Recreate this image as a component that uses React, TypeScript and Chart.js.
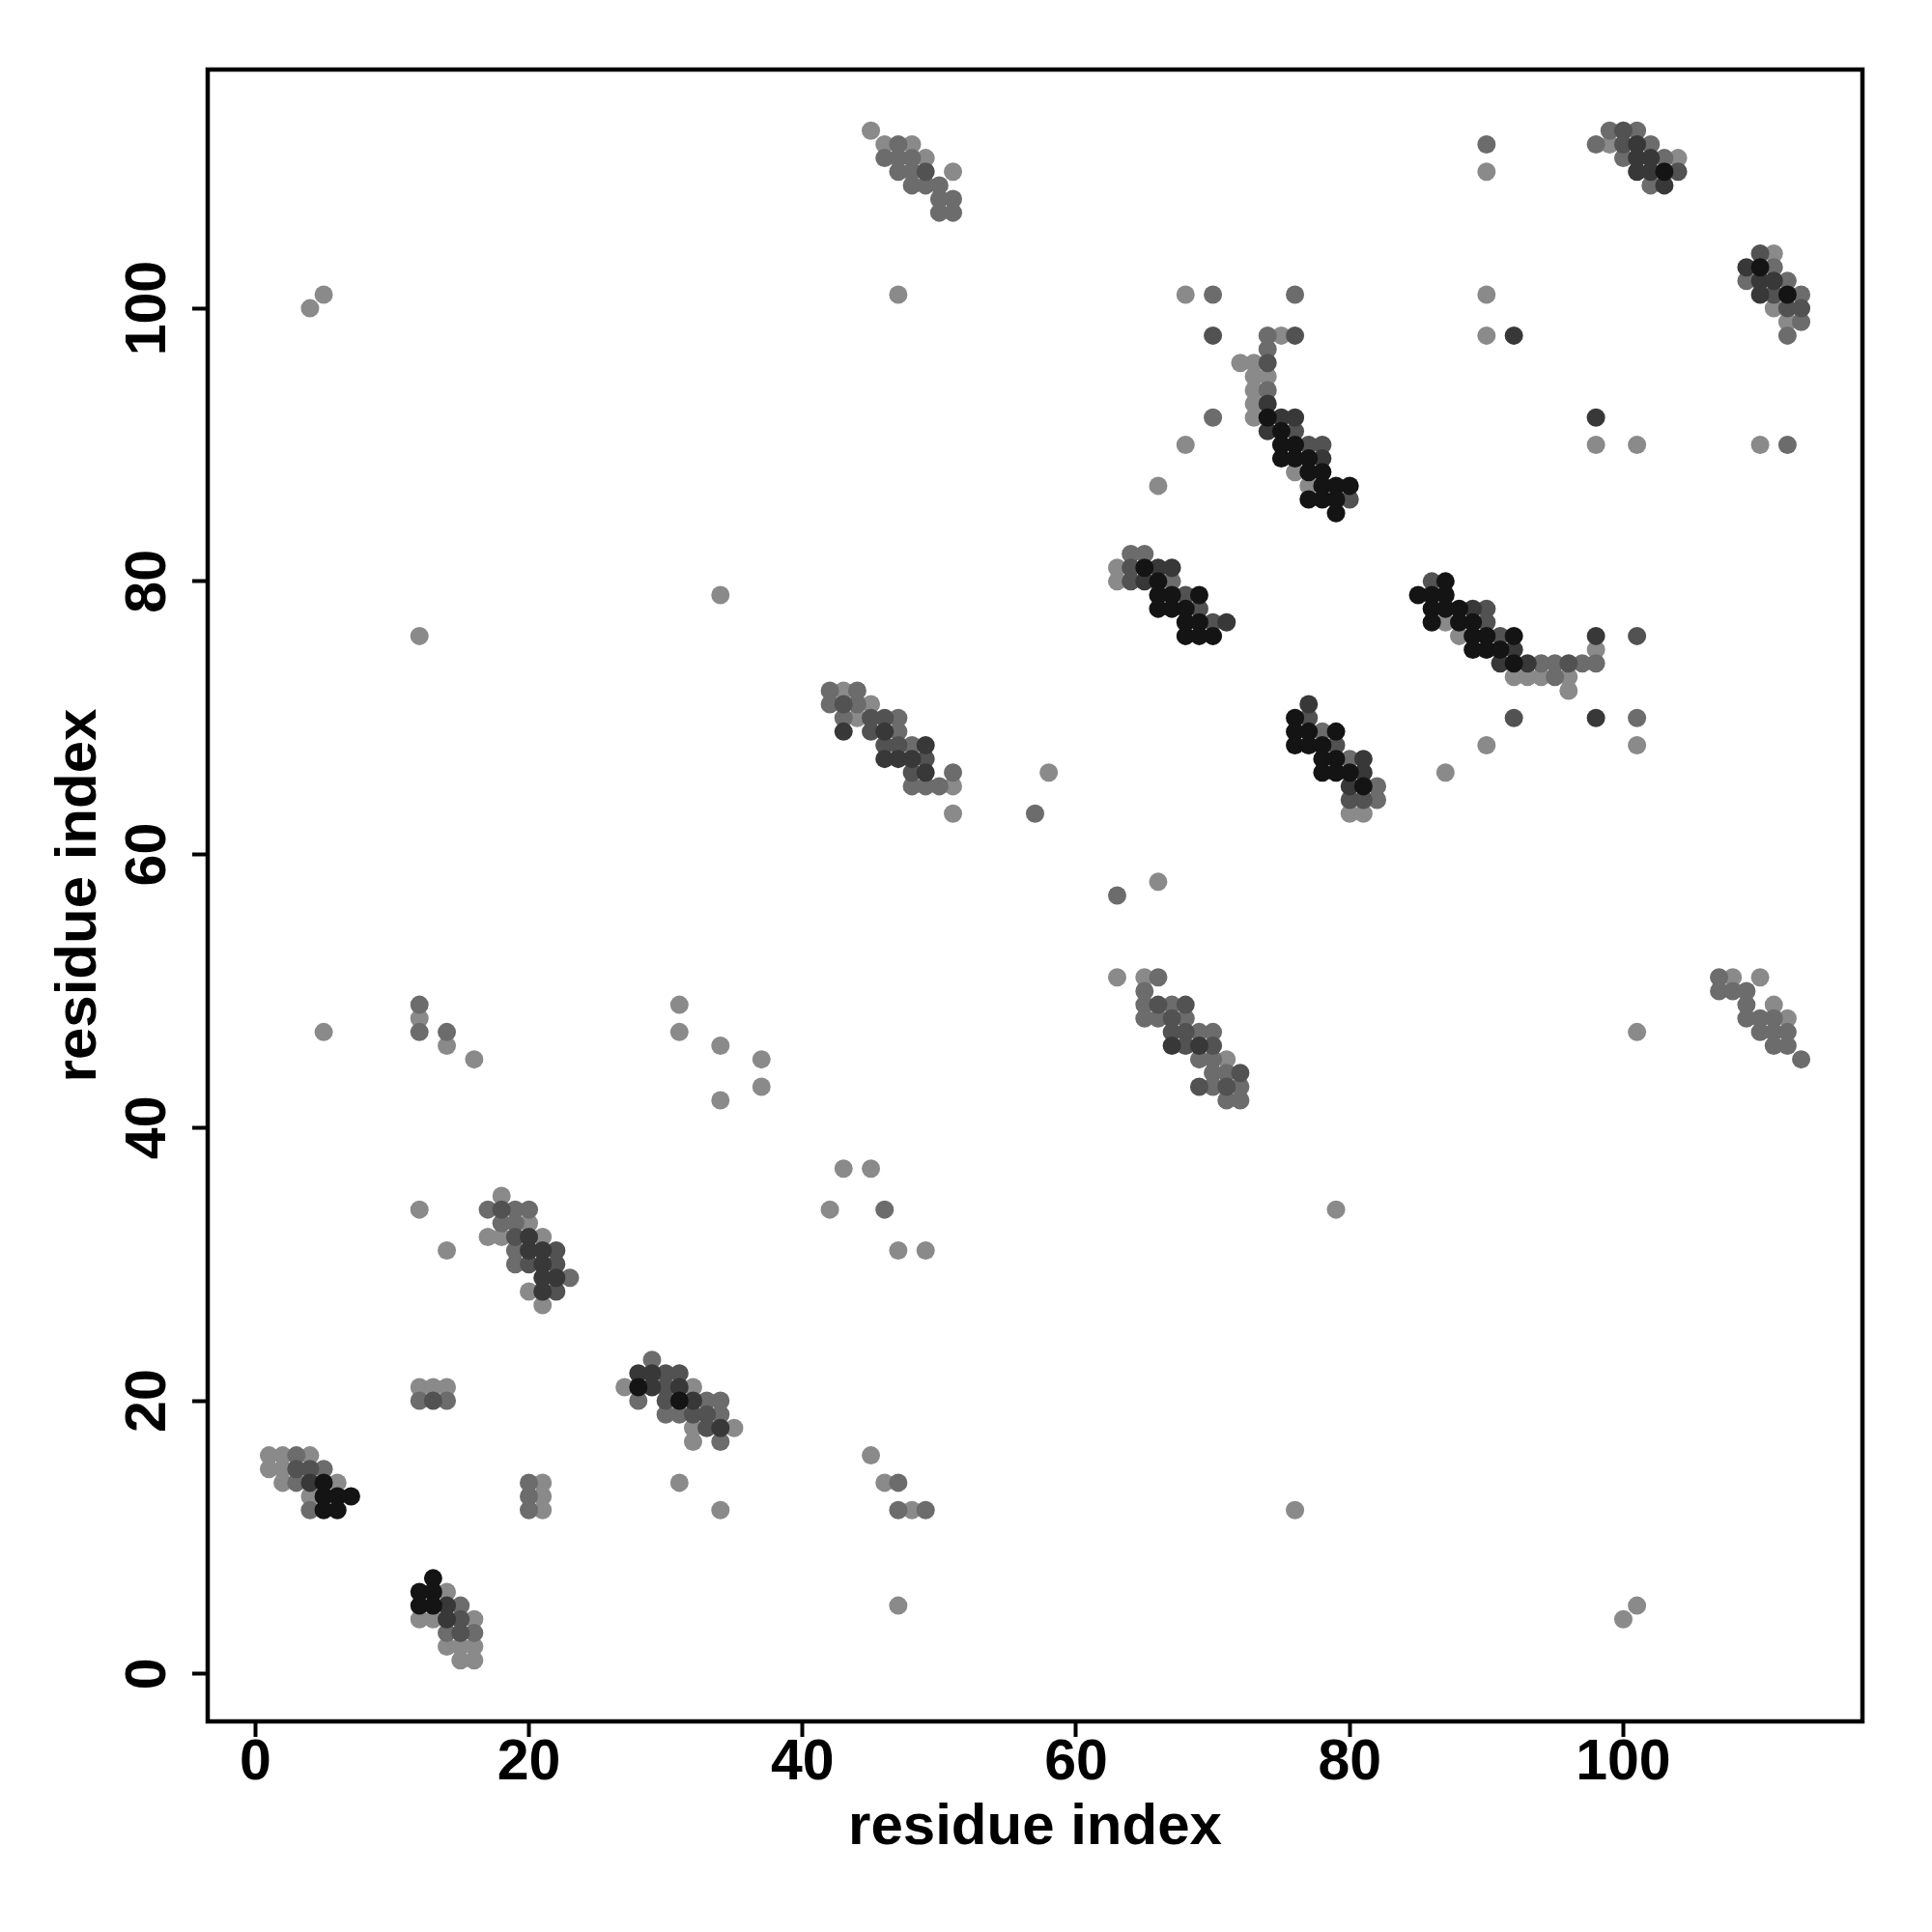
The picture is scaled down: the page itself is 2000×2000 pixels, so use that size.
import React, { useEffect, useRef } from 'react';
import { Chart, registerables } from 'chart.js';

Chart.register(...registerables);

// ---- axes ----
const xTicks = [0, 20, 40, 60, 80, 100];
const yTicks = [0, 20, 40, 60, 80, 100];
const axisMin = -3.48;
const axisMax = 117.48;
const xTitle = 'residue index';
const yTitle = 'residue index';

// ---- grey shades (lightest -> darkest) ----
const greyLevels = ['#8a8a8a', '#6c6c6c', '#525252', '#383838', '#141414'];

// ---- contacts [residue i, residue j], grouped by grey shade ----
const contactsLevel1: [number, number][] = [
  [1, 16], [2, 16], [4, 16], [1, 15], [2, 15], [2, 14], [6, 14], [4, 13],
  [14, 6], [12, 4], [13, 4], [16, 4], [14, 2], [15, 2], [16, 2], [15, 1], [16, 1],
  [12, 21], [13, 21], [14, 21], [21, 14], [21, 13], [21, 12],
  [18, 35], [20, 33], [17, 32], [18, 32], [21, 32], [20, 28], [21, 27], [12, 34], [14, 31],
  [27, 21], [32, 21], [32, 18], [35, 18], [32, 17],
  [31, 14], [34, 12], [45, 16], [46, 14], [48, 12], [47, 5], [42, 34], [47, 31], [49, 31],
  [43, 37], [45, 37], [12, 48], [14, 46], [16, 45], [5, 47], [31, 49], [31, 47], [37, 45],
  [37, 43], [34, 42], [34, 46],
  [43, 72], [45, 71], [44, 70], [51, 65], [51, 63], [58, 66],
  [45, 113], [46, 112], [48, 112], [49, 111], [51, 110],
  [4, 100], [5, 101], [47, 101], [12, 76], [34, 79],
  [66, 58], [63, 51], [65, 51], [71, 45], [63, 81], [63, 80], [80, 63], [81, 63],
  [68, 101], [75, 98], [72, 96], [73, 96], [73, 95], [74, 95], [73, 94], [73, 93], [73, 92],
  [68, 90], [76, 88], [66, 87], [77, 87],
  [87, 77], [88, 76], [98, 75], [92, 73], [93, 73], [94, 73], [96, 73], [96, 72], [90, 68],
  [101, 68], [87, 66],
  [90, 110], [99, 112], [104, 111], [111, 104], [111, 100], [112, 99], [90, 101], [90, 98],
  [98, 90], [101, 90], [110, 90],
  [101, 47], [108, 51], [110, 51], [111, 49], [112, 48],
  [76, 12], [79, 34], [100, 4], [101, 5],
];

const contactsLevel2: [number, number][] = [
  [3, 16], [5, 15], [3, 14], [4, 12], [15, 5], [14, 3], [16, 3], [12, 20], [14, 20],
  [20, 14], [20, 13], [20, 12],
  [17, 34], [19, 34], [20, 34], [18, 33], [19, 33], [19, 31], [19, 30], [23, 29],
  [29, 23], [28, 20], [33, 20], [34, 20], [30, 19], [31, 19], [34, 19], [34, 17],
  [47, 14], [47, 12], [49, 12], [46, 34], [12, 49], [12, 47], [14, 47],
  [42, 72], [44, 72], [42, 71], [44, 71], [43, 70], [47, 70], [47, 69], [48, 68], [51, 66],
  [48, 65], [49, 65], [50, 65], [57, 63],
  [47, 112], [46, 111], [47, 111], [48, 111], [47, 110], [48, 110], [48, 109], [49, 109],
  [50, 109], [50, 108], [51, 108], [50, 107], [51, 107],
  [63, 57], [66, 51], [65, 50], [65, 49], [67, 49], [65, 48], [66, 48], [68, 48], [69, 47],
  [70, 47], [69, 45], [70, 45], [70, 44], [71, 44], [70, 43], [72, 43], [71, 42], [72, 42],
  [64, 82], [65, 82], [67, 80], [78, 69], [80, 67], [82, 65], [82, 64],
  [70, 101], [76, 101], [74, 98], [74, 97], [74, 94], [70, 92],
  [94, 74], [95, 74], [97, 74], [98, 74], [95, 73], [101, 70],
  [90, 112], [99, 113], [101, 113], [98, 112], [102, 112], [100, 111], [103, 111], [102, 109],
  [111, 103], [109, 102], [112, 102], [113, 101], [113, 99], [112, 98], [112, 90],
  [107, 51], [107, 50], [108, 50], [109, 50], [109, 49], [109, 48], [110, 48], [111, 48],
  [110, 47], [111, 47], [112, 47], [111, 46], [112, 46], [113, 45],
];

const contactsLevel3: [number, number][] = [
  [3, 15], [4, 15], [15, 4], [15, 3], [13, 20],
  [18, 34], [19, 32], [22, 31], [20, 30], [22, 30], [22, 28],
  [30, 22], [31, 22], [30, 21], [30, 20], [32, 19], [33, 19], [33, 18],
  [43, 71], [45, 70], [46, 70], [45, 69], [46, 68], [47, 68], [49, 67], [48, 66], [49, 110],
  [66, 49], [68, 49], [67, 48], [67, 47], [68, 47], [68, 46], [70, 46], [72, 44], [69, 43], [71, 43],
  [64, 81], [64, 80], [68, 79], [69, 78], [70, 77], [77, 70], [79, 68], [80, 64], [81, 64],
  [70, 98], [76, 98], [74, 96], [76, 91], [77, 90], [78, 90], [80, 86],
  [86, 80], [90, 78], [90, 77], [91, 76], [96, 74], [101, 76], [92, 70],
  [100, 113], [100, 112], [104, 110], [110, 104], [111, 101], [112, 100], [113, 100],
];

const contactsLevel4: [number, number][] = [
  [4, 14], [14, 5], [14, 4],
  [20, 32], [20, 31], [21, 31], [21, 30], [21, 29], [22, 29], [21, 28],
  [28, 22], [29, 22], [29, 21], [31, 21], [32, 20], [34, 18],
  [43, 69], [46, 69], [49, 68], [46, 67], [47, 67], [48, 67], [49, 66],
  [67, 46], [69, 46], [66, 81], [67, 81], [65, 80], [71, 77], [77, 71], [81, 67], [81, 66], [80, 65],
  [74, 93], [75, 92], [76, 92], [74, 91], [78, 89],
  [89, 78], [92, 75], [91, 74], [93, 74], [98, 76], [98, 70],
  [101, 112], [101, 111], [102, 111], [101, 110], [102, 110], [103, 109], [109, 103], [110, 102],
  [111, 102], [110, 101], [92, 98], [98, 92],
];

const contactsLevel5: [number, number][] = [
  [5, 14], [5, 13], [6, 13], [7, 13], [5, 12], [6, 12], [13, 7], [12, 6], [13, 6], [12, 5], [13, 5],
  [28, 21], [31, 20],
  [65, 81], [66, 80], [66, 79], [67, 79], [69, 79], [66, 78], [67, 78], [68, 78], [68, 77], [69, 77],
  [68, 76], [69, 76], [70, 76],
  [76, 70], [76, 69], [77, 69], [79, 69], [76, 68], [77, 68], [78, 68], [78, 67], [79, 67], [78, 66],
  [79, 66], [80, 66], [81, 65],
  [74, 92], [75, 91], [75, 90], [76, 90], [75, 89], [76, 89], [77, 89], [77, 88], [78, 88], [78, 87],
  [79, 87], [80, 87], [77, 86], [78, 86], [79, 86], [79, 85],
  [87, 80], [85, 79], [86, 79], [87, 79], [86, 78], [87, 78], [88, 78], [86, 77], [88, 77], [89, 77],
  [89, 76], [90, 76], [92, 76], [89, 75], [90, 75], [91, 75], [92, 74],
  [103, 110], [110, 103], [112, 101],
];

const FONT = '"Liberation Sans", Arial, Helvetica, sans-serif';

const framePlugin = {
  id: 'rFrame',
  afterDraw(chart: any) {
    const { ctx, chartArea: a, scales } = chart;
    ctx.save();
    ctx.strokeStyle = '#000';
    ctx.lineWidth = 4.5;
    ctx.strokeRect(a.left, a.top, a.right - a.left, a.bottom - a.top);
    ctx.fillStyle = '#000';
    ctx.font = `bold 59px ${FONT}`;
    ctx.textAlign = 'center';
    ctx.textBaseline = 'alphabetic';
    for (const v of xTicks) {
      ctx.fillText(String(v), scales.x.getPixelForValue(v), a.bottom + 60);
    }
    for (const v of yTicks) {
      ctx.save();
      ctx.translate(a.left - 44, scales.y.getPixelForValue(v));
      ctx.rotate(-Math.PI / 2);
      ctx.fillText(String(v), 0, 0);
      ctx.restore();
    }
    ctx.restore();
  },
};

export default function App() {
  const ref = useRef<HTMLCanvasElement | null>(null);

  useEffect(() => {
    if (!ref.current) return;
    const levels = [contactsLevel1, contactsLevel2, contactsLevel3, contactsLevel4, contactsLevel5];
    // darkest first so it is drawn on top
    const datasets = levels
      .map((pts, i) => ({
        label: `level ${i + 1}`,
        data: pts.map(([x, y]) => ({ x, y })),
        backgroundColor: greyLevels[i],
        borderWidth: 0,
        pointRadius: 9.5,
        pointHoverRadius: 9.5,
      }))
      .reverse();

    const axisCommon = (ticks: number[], fitSize: (s: any) => void, title: string, pad: any) => ({
      type: 'linear' as const,
      min: axisMin,
      max: axisMax,
      afterBuildTicks: (s: any) => {
        s.ticks = ticks.map((v) => ({ value: v }));
      },
      afterFit: fitSize,
      ticks: { display: false },
      grid: {
        display: true,
        drawOnChartArea: false,
        drawTicks: true,
        tickLength: 16,
        tickWidth: 4,
        tickColor: '#000',
        color: '#000',
      },
      border: { display: false },
      title: {
        display: true,
        text: title,
        color: '#000',
        font: { family: FONT, size: 60, weight: 'bold' as const },
        padding: pad,
      },
    });

    const chart = new Chart(ref.current, {
      type: 'scatter',
      data: { datasets },
      options: {
        animation: false,
        responsive: false,
        devicePixelRatio: 1,
        layout: { padding: { top: 72, right: 72, left: 0, bottom: 0 } },
        plugins: { legend: { display: false }, tooltip: { enabled: false } },
        scales: {
          x: {
            position: 'bottom',
            ...axisCommon(xTicks, (s: any) => { s.height = 218; }, xTitle, { top: 0, bottom: 72 }),
          },
          y: {
            position: 'left',
            ...axisCommon(yTicks, (s: any) => { s.width = 215; }, yTitle, { top: 46, bottom: 0 }),
          },
        },
      },
      plugins: [framePlugin],
    });
    return () => chart.destroy();
  }, []);

  return (
    <div style={{ position: 'absolute', left: 0, top: 0, width: 2000, height: 2000, background: '#fff' }}>
      <canvas ref={ref} width={2000} height={2000} />
    </div>
  );
}
